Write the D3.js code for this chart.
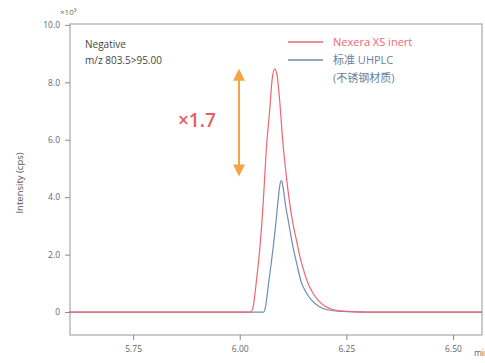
<!DOCTYPE html>
<html>
<head>
<meta charset="utf-8">
<title>Chromatogram</title>
<style>
  body { margin: 0; background: #fff; }
  text { font-family: "Open Sans", "Noto Sans", "Noto Sans CJK SC", sans-serif; }
</style>
</head>
<body>
<div id="chart"></div>
<script src="https://cdn.jsdelivr.net/npm/d3@7"></script>
<script>

// retention time (min) and intensity (x10^3 cps)
var redTime = [5.60, 6.025, 6.03, 6.04, 6.047, 6.055, 6.062, 6.07, 6.076, 6.082, 6.088, 6.094, 6.10, 6.108,
               6.117, 6.125, 6.133, 6.14, 6.15, 6.16, 6.17, 6.183, 6.20, 6.22, 6.25, 6.30, 6.568];
var redVal  = [0, 0, 0.1, 1.2, 2.2, 3.8, 5.6, 7.0, 8.1, 8.47, 8.2, 7.3, 6.1, 4.9,
               3.8, 3.05, 2.5, 2.0, 1.45, 1.0, 0.7, 0.42, 0.2, 0.08, 0.02, 0, 0];

var blueTime = [5.60, 6.056, 6.06, 6.066, 6.072, 6.078, 6.084, 6.09, 6.095, 6.098, 6.102, 6.107, 6.113,
                6.12, 6.125, 6.135, 6.144, 6.155, 6.168, 6.185, 6.205, 6.24, 6.30, 6.568];
var blueVal  = [0, 0, 0.15, 0.8, 1.5, 2.2, 3.0, 3.9, 4.5, 4.58, 4.3, 3.75, 3.25,
                2.65, 2.25, 1.6, 1.05, 0.7, 0.42, 0.2, 0.08, 0.02, 0, 0];

var xTicks = [5.75, 6.00, 6.25, 6.50];
var yTicks = [0, 2, 4, 6, 8, 10];
var legendNames = ["Nexera XS inert", "标准 UHPLC"];
var ratioLabel = "×1.7";

var w = 485, h = 363;
var mLeft = 70, mRight = 482, mTop = 24, mBottom = 335;

var svg = d3.select("#chart").append("svg")
    .attr("width", w).attr("height", h);

var x = d3.scaleLinear().domain([5.602, 6.568]).range([mLeft, mRight]);
var y = d3.scaleLinear().domain([-0.8, 10.03]).range([mBottom, mTop]);

// frame
svg.append("rect")
    .attr("x", mLeft).attr("y", mTop)
    .attr("width", mRight - mLeft).attr("height", mBottom - mTop)
    .attr("fill", "none").attr("stroke", "#a8a8a8").attr("stroke-width", 1.2);

var xAxis = svg.append("g")
    .attr("transform", "translate(0," + mBottom + ")")
    .call(d3.axisBottom(x).tickValues(xTicks).tickSize(5).tickPadding(6)
          .tickFormat(d3.format(".2f")));
var yAxis = svg.append("g")
    .attr("transform", "translate(" + mLeft + ",0)")
    .call(d3.axisLeft(y).tickValues(yTicks).tickSize(5).tickPadding(5)
          .tickFormat(function(d){ return d === 0 ? "0" : d3.format(".1f")(d); }));

[xAxis, yAxis].forEach(function(g){
  g.select(".domain").remove();
  g.selectAll("line").attr("stroke", "#888");
  g.selectAll("text").attr("fill", "#666").style("font-size", "8.5px")
    .style("font-family", "'Open Sans', sans-serif");
});

svg.append("text").attr("x", 474).attr("y", 356)
    .attr("fill", "#666").style("font-size", "8.5px").text("min");

svg.append("text").attr("x", 60).attr("y", 15)
    .attr("fill", "#666").style("font-size", "8px").text("×10³");

svg.append("text")
    .attr("transform", "translate(23,183) rotate(-90)")
    .attr("text-anchor", "middle")
    .attr("fill", "#555").style("font-size", "9.5px")
    .text("Intensity (cps)");

// traces
var line = d3.line()
    .x(function(d){ return x(d[0]); })
    .y(function(d){ return y(d[1]); })
    .curve(d3.curveMonotoneX);

var blueData = d3.zip(blueTime, blueVal);
var redData = d3.zip(redTime, redVal);

svg.append("path").datum(blueData).attr("d", line)
    .attr("fill", "none").attr("stroke", "#6f8db5").attr("stroke-width", 1.2);
svg.append("path").datum(redData).attr("d", line)
    .attr("fill", "none").attr("stroke", "#f06670").attr("stroke-width", 1.2);

// top-left note
svg.append("text").attr("x", 85).attr("y", 48)
    .attr("fill", "#444").style("font-size", "10px").text("Negative");
svg.append("text").attr("x", 85).attr("y", 64)
    .attr("fill", "#444").style("font-size", "10px").text("m/z 803.5>95.00");

// legend
var legColors = ["#f06670", "#6f8db5"];
var legText = ["#ef6670", "#6b7f9c"];
legendNames.forEach(function(n, i){
  var ly = 42 + i * 18;
  svg.append("line").attr("x1", 288).attr("x2", 323).attr("y1", ly).attr("y2", ly)
      .attr("stroke", legColors[i]).attr("stroke-width", 1.4);
  svg.append("text").attr("x", 333).attr("y", ly + 4)
      .attr("fill", legText[i]).style("font-size", "11px").text(n);
});
svg.append("text").attr("x", 333).attr("y", 82)
    .attr("fill", "#6b7f9c").style("font-size", "11px").text("(不锈钢材质)");

// ratio arrow between the two peak heights
var ax = 239;
var redPeak = d3.max(redVal), bluePeak = d3.max(blueVal);
var orange = "#f3a545";
svg.append("line").attr("x1", ax).attr("x2", ax)
    .attr("y1", y(redPeak) + 4).attr("y2", y(bluePeak) - 12)
    .attr("stroke", orange).attr("stroke-width", 2);
svg.append("path")
    .attr("d", "M" + (ax - 6) + "," + (y(redPeak) + 12) + "L" + ax + "," + (y(redPeak)) + "L" + (ax + 6) + "," + (y(redPeak) + 12) + "Z")
    .attr("fill", orange);
svg.append("path")
    .attr("d", "M" + (ax - 6) + "," + (y(bluePeak) - 16) + "L" + ax + "," + (y(bluePeak) - 4) + "L" + (ax + 6) + "," + (y(bluePeak) - 16) + "Z")
    .attr("fill", orange);

svg.append("text").attr("x", 178).attr("y", 127)
    .attr("fill", "#ec5a64").style("font-size", "19px").style("font-weight", "600")
    .text(ratioLabel);

</script>
</body>
</html>
